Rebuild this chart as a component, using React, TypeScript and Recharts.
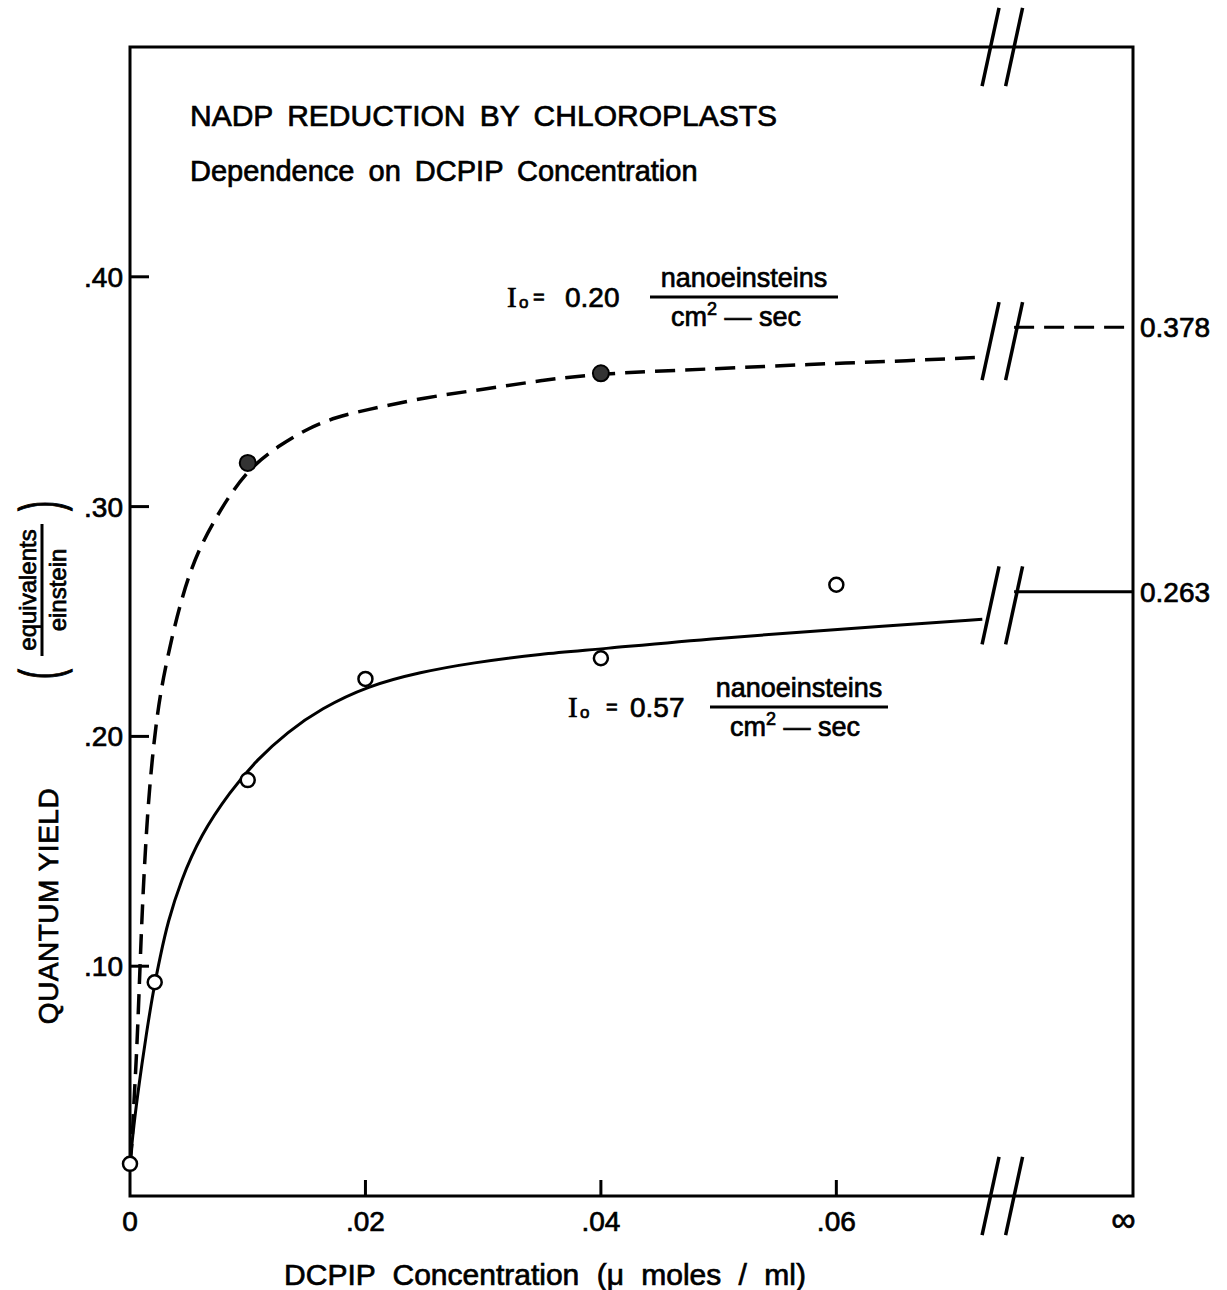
import React from "react";
import {
  ComposedChart,
  Customized,
  Line,
  ReferenceArea,
  ReferenceLine,
  Scatter,
  XAxis,
  YAxis
} from "recharts";

const FONT = '"Liberation Sans", Arial, sans-serif';
const INK = "#000";
const TEXT_STROKE = 0.7; // thickens the glyphs a little, like the stencil lettering

const X_MAX = 0.0852; // the "infinite" column at the right edge
const Y_MAX = 0.5;

const xTicks = [0, 0.02, 0.04, 0.06, X_MAX];
const xTickLabels = ["0", ".02", ".04", ".06", "∞"];
const yTicks = [0.1, 0.2, 0.3, 0.4];
const yTickLabels = [".10", ".20", ".30", ".40"];

// Io = 0.20 nanoeinsteins/cm2-sec : dashed fit, filled points
const lowCurveX = [0, 0.00017, 0.00028, 0.0006, 0.00085, 0.0011, 0.0015, 0.0019, 0.0023, 0.0028, 0.0036, 0.0043, 0.005, 0.006, 0.0074, 0.0086, 0.0104, 0.0128, 0.0151, 0.0175, 0.02, 0.025, 0.03, 0.035, 0.04, 0.05, 0.058, 0.064, 0.0723];
const lowCurveY = [0.014, 0.022, 0.036, 0.065, 0.1, 0.132, 0.168, 0.191, 0.209, 0.225, 0.244, 0.258, 0.27, 0.283, 0.296, 0.306, 0.318, 0.327, 0.334, 0.339, 0.342, 0.3475, 0.351, 0.355, 0.358, 0.36, 0.362, 0.363, 0.365];
const lowPointsX = [0.01, 0.04];
const lowPointsY = [0.319, 0.358];

// Io = 0.57 nanoeinsteins/cm2-sec : solid fit, open points
const highCurveX = [0, 0.0003, 0.0008, 0.0014, 0.002, 0.0026, 0.0032, 0.0043, 0.006, 0.0085, 0.0108, 0.0134, 0.0162, 0.0202, 0.0247, 0.029, 0.035, 0.04, 0.049, 0.0655, 0.0724];
const highCurveY = [0.014, 0.03, 0.05, 0.071, 0.09, 0.105, 0.119, 0.137, 0.157, 0.176, 0.19, 0.202, 0.212, 0.222, 0.228, 0.232, 0.236, 0.238, 0.2425, 0.2485, 0.251];
const highPointsX = [0, 0.0021, 0.01, 0.02, 0.04, 0.06];
const highPointsY = [0.014, 0.093, 0.181, 0.225, 0.234, 0.266];

// limiting yields at infinite DCPIP
const infLabels = ["0.378", "0.263"];
const infValues = [0.378, 0.263];

// axis break (double slash)
const BREAK_X = [0.0731, 0.0751];
const breakLevels = [Y_MAX, 0.372, 0.257, 0];

const zip = (xs: number[], ys: number[]) => xs.map((x, i) => ({ x, y: ys[i] }));

const lowCurve = zip(lowCurveX, lowCurveY);
const lowPoints = zip(lowPointsX, lowPointsY);
const highCurve = zip(highCurveX, highCurveY);
const highPoints = zip(highPointsX, highPointsY);

function renderYTick(props: any) {
  const { x, y, payload } = props;
  const i = yTicks.findIndex((t) => Math.abs(t - payload.value) < 1e-9);
  return (
    <g>
      <line x1={x} x2={x + 19} y1={y} y2={y} stroke={INK} strokeWidth={3} />
      <text x={x - 7} y={y + 10} textAnchor="end" fontSize={28} fontFamily={FONT} fill={INK} stroke={INK} strokeWidth={TEXT_STROKE}>
        {yTickLabels[i]}
      </text>
    </g>
  );
}

function renderXTick(props: any) {
  const { x, y, payload } = props;
  const i = xTicks.findIndex((t) => Math.abs(t - payload.value) < 1e-9);
  const isInf = i === xTicks.length - 1;
  return (
    <g>
      {i > 0 && !isInf && <line x1={x} x2={x} y1={y} y2={y - 16} stroke={INK} strokeWidth={3} />}
      <text
        x={isInf ? x - 10 : x}
        y={y + 35}
        textAnchor="middle"
        fontSize={isInf ? 34 : 28}
        fontStyle={isInf ? "italic" : "normal"}
        fontFamily={FONT}
        fill={INK}
        stroke={INK}
        strokeWidth={TEXT_STROKE}
      >
        {xTickLabels[i]}
      </text>
    </g>
  );
}

function FluxLabel({ ax, by, eqX, valX, value, barX1, barX2, denX }: any) {
  return (
    <g>
      <text x={ax} y={by + 10} fontSize={29} fontFamily='"Liberation Serif", serif'>I</text>
      <text x={ax + 12} y={by + 11} fontSize={17}>o</text>
      <text x={eqX} y={by + 7} fontSize={20}>=</text>
      <text x={valX} y={by + 10} fontSize={28}>{value}</text>
      <text x={(barX1 + barX2) / 2} y={by - 10} fontSize={27} textAnchor="middle">nanoeinsteins</text>
      <line x1={barX1} x2={barX2} y1={by} y2={by} stroke={INK} strokeWidth={3} />
      <text x={denX} y={by + 29} fontSize={27} textAnchor="middle">
        cm<tspan fontSize={18} dy={-11}>2</tspan>
        <tspan dy={11}>{" — sec"}</tspan>
      </text>
    </g>
  );
}

function Annotations() {
  return (
    <g fontFamily={FONT} fill={INK} stroke={INK} strokeWidth={TEXT_STROKE}>
      <text x={190} y={126} fontSize={30} wordSpacing={6}>NADP REDUCTION BY CHLOROPLASTS</text>
      <text x={190} y={181} fontSize={29} wordSpacing={6}>Dependence on DCPIP Concentration</text>

      <FluxLabel ax={507} by={297} eqX={533} valX={565} value="0.20" barX1={650} barX2={838} denX={736} />
      <FluxLabel ax={568} by={707} eqX={606} valX={630} value="0.57" barX1={710} barX2={888} denX={795} />

      <text x={545} y={1285} fontSize={30} textAnchor="middle" wordSpacing={9}>
        DCPIP Concentration (μ moles / ml)
      </text>

      <text transform="translate(58 906) rotate(-90)" fontSize={28} textAnchor="middle" letterSpacing={0.5}>
        QUANTUM YIELD
      </text>
      <g transform="translate(43 590) rotate(-90)">
        <text x={0} y={-7} fontSize={24} textAnchor="middle">equivalents</text>
        <line x1={-66} x2={66} y1={-1} y2={-1} stroke={INK} strokeWidth={3} />
        <text x={0} y={23} fontSize={24} textAnchor="middle">einstein</text>
        <text transform="translate(-84 -2) scale(1 1.9)" fontSize={30} textAnchor="middle" dominantBaseline="central">(</text>
        <text transform="translate(84 -2) scale(1 1.9)" fontSize={30} textAnchor="middle" dominantBaseline="central">)</text>
      </g>
    </g>
  );
}

export default function App() {
  return (
    <div style={{ position: "absolute", left: 0, top: 0, width: 1227, height: 1290, background: "#fff" }}>
      <ComposedChart width={1227} height={1290} margin={{ top: 47, right: 94, bottom: 54, left: 70 }}>
        <XAxis
          type="number"
          dataKey="x"
          domain={[0, X_MAX]}
          ticks={xTicks}
          interval={0}
          tick={renderXTick}
          tickLine={false}
          axisLine={false}
          tickSize={0}
          tickMargin={0}
          height={40}
        />
        <YAxis
          type="number"
          dataKey="y"
          domain={[0, Y_MAX]}
          ticks={yTicks}
          interval={0}
          tick={renderYTick}
          tickLine={false}
          axisLine={false}
          tickSize={0}
          tickMargin={0}
          width={60}
        />
        <ReferenceArea x1={0} x2={X_MAX} y1={0} y2={Y_MAX} fill="none" stroke={INK} strokeWidth={3} ifOverflow="visible" />

        {infValues.map((v, i) => (
          <ReferenceLine
            key={infLabels[i]}
            segment={[{ x: BREAK_X[1], y: v }, { x: X_MAX, y: v }]}
            stroke={INK}
            strokeWidth={3}
            strokeDasharray={i === 0 ? "20 10" : undefined}
            ifOverflow="visible"
            label={{ value: infLabels[i], position: "right", offset: 7, fill: INK, stroke: INK, strokeWidth: TEXT_STROKE, fontSize: 28, fontFamily: FONT }}
          />
        ))}

        {breakLevels.flatMap((lv) =>
          BREAK_X.map((bx) => (
            <ReferenceLine
              key={`${lv}-${bx}`}
              segment={[{ x: bx - 0.00072, y: lv - 0.017 }, { x: bx + 0.00072, y: lv + 0.017 }]}
              stroke={INK}
              strokeWidth={3.5}
              ifOverflow="visible"
            />
          ))
        )}

        <Line data={lowCurve} dataKey="y" type="basis" stroke={INK} strokeWidth={3.5} strokeDasharray="20 10" dot={false} activeDot={false} isAnimationActive={false} />
        <Line data={highCurve} dataKey="y" type="basis" stroke={INK} strokeWidth={3} dot={false} activeDot={false} isAnimationActive={false} />

        <Scatter
          data={highPoints}
          dataKey="y"
          isAnimationActive={false}
          shape={(p: any) => <circle cx={p.cx} cy={p.cy} r={7} fill="#fff" stroke={INK} strokeWidth={2.5} />}
        />
        <Scatter
          data={lowPoints}
          dataKey="y"
          isAnimationActive={false}
          shape={(p: any) => <circle cx={p.cx} cy={p.cy} r={8} fill="#333" stroke={INK} strokeWidth={2} />}
        />

        <Customized component={Annotations} />
      </ComposedChart>
    </div>
  );
}
